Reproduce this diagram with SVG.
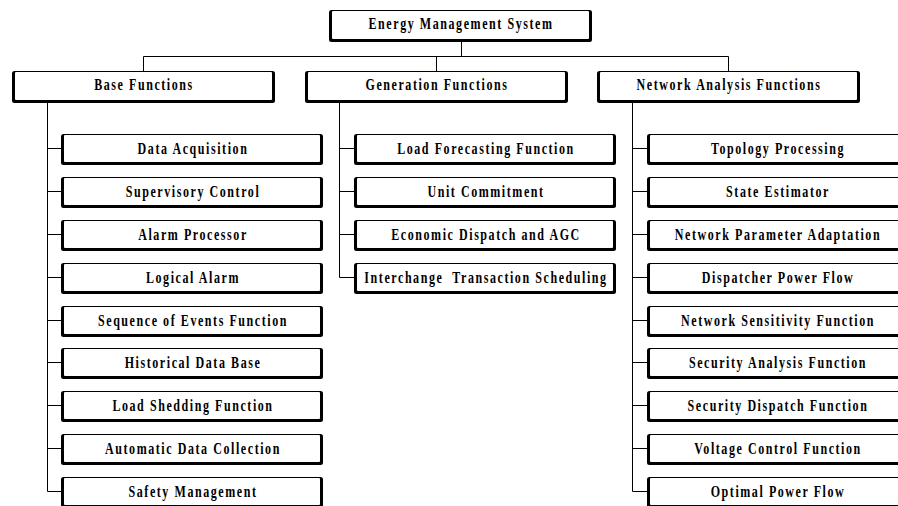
<svg xmlns="http://www.w3.org/2000/svg" xmlns:xlink="http://www.w3.org/1999/xlink" width="898" height="506" viewBox="0 0 898 506">
<style>
text{font-family:"Liberation Serif","Times New Roman",serif;font-weight:bold;font-size:16px;letter-spacing:2.1px;text-anchor:middle;fill:#000}
.ln{stroke:#000;stroke-width:1;fill:none}
</style>
<defs>
<g id="cb"><rect width="262" height="31" rx="2.5" fill="#000"/><rect x="3" y="1" width="256" height="27" rx="1" fill="#fff"/></g>
<g id="hb"><rect width="263" height="32" rx="2.5" fill="#000"/><rect x="3" y="1" width="257" height="28" rx="1" fill="#fff"/></g>
</defs>
<rect width="898" height="506" fill="#fff"/>
<g id="connectors" class="ln">
<path d="M461.5 41V56.5M143.5 56.5H728.5M143.5 56.5V71M436.5 56.5V71M728.5 56.5V71"/>
<path d="M47.5 103V491.5M47.5 148.5H61M47.5 191.5H61M47.5 234.5H61M47.5 277.5H61M47.5 320.5H61M47.5 362.5H61M47.5 405.5H61M47.5 448.5H61M47.5 491.5H61"/>
<path d="M339.5 103V277.5M339.5 148.5H354M339.5 191.5H354M339.5 234.5H354M339.5 277.5H354"/>
<path d="M632.5 103V491.5M632.5 148.5H647M632.5 191.5H647M632.5 234.5H647M632.5 277.5H647M632.5 320.5H647M632.5 362.5H647M632.5 405.5H647M632.5 448.5H647M632.5 491.5H647"/>
</g>
<g id="ems"><use xlink:href="#hb" x="329" y="10"/><text transform="translate(461,29) scale(0.75,1)">Energy Management System</text></g>
<g id="base"><use xlink:href="#hb" x="12" y="71"/><text transform="translate(144,90) scale(0.75,1)">Base Functions</text></g>
<g id="gen"><use xlink:href="#hb" x="305" y="71"/><text transform="translate(437,90) scale(0.75,1)">Generation Functions</text></g>
<g id="net"><use xlink:href="#hb" x="597" y="71"/><text transform="translate(729,90) scale(0.75,1)">Network Analysis Functions</text></g>

<g id="b1"><use xlink:href="#cb" x="61" y="134"/><text transform="translate(193,154) scale(0.75,1)">Data Acquisition</text></g>
<g id="b2"><use xlink:href="#cb" x="61" y="177"/><text transform="translate(193,197) scale(0.75,1)">Supervisory Control</text></g>
<g id="b3"><use xlink:href="#cb" x="61" y="220"/><text transform="translate(193,240) scale(0.75,1)">Alarm Processor</text></g>
<g id="b4"><use xlink:href="#cb" x="61" y="263"/><text transform="translate(193,283) scale(0.75,1)">Logical Alarm</text></g>
<g id="b5"><use xlink:href="#cb" x="61" y="306"/><text transform="translate(193,326) scale(0.75,1)">Sequence of Events Function</text></g>
<g id="b6"><use xlink:href="#cb" x="61" y="348"/><text transform="translate(193,368) scale(0.75,1)">Historical Data Base</text></g>
<g id="b7"><use xlink:href="#cb" x="61" y="391"/><text transform="translate(193,411) scale(0.75,1)">Load Shedding Function</text></g>
<g id="b8"><use xlink:href="#cb" x="61" y="434"/><text transform="translate(193,454) scale(0.75,1)">Automatic Data Collection</text></g>
<g id="b9"><use xlink:href="#cb" x="61" y="477"/><text transform="translate(193,497) scale(0.75,1)">Safety Management</text></g>

<g id="g1"><use xlink:href="#cb" x="354" y="134"/><text transform="translate(486,154) scale(0.75,1)">Load Forecasting Function</text></g>
<g id="g2"><use xlink:href="#cb" x="354" y="177"/><text transform="translate(486,197) scale(0.75,1)">Unit Commitment</text></g>
<g id="g3"><use xlink:href="#cb" x="354" y="220"/><text transform="translate(486,240) scale(0.75,1)">Economic Dispatch and AGC</text></g>
<g id="g4"><use xlink:href="#cb" x="354" y="263"/><text transform="translate(486,283) scale(0.75,1)" xml:space="preserve">Interchange  Transaction Scheduling</text></g>

<g id="n1"><use xlink:href="#cb" x="647" y="134"/><text transform="translate(778,154) scale(0.75,1)">Topology Processing</text></g>
<g id="n2"><use xlink:href="#cb" x="647" y="177"/><text transform="translate(778,197) scale(0.75,1)">State Estimator</text></g>
<g id="n3"><use xlink:href="#cb" x="647" y="220"/><text transform="translate(778,240) scale(0.75,1)">Network Parameter Adaptation</text></g>
<g id="n4"><use xlink:href="#cb" x="647" y="263"/><text transform="translate(778,283) scale(0.75,1)">Dispatcher Power Flow</text></g>
<g id="n5"><use xlink:href="#cb" x="647" y="306"/><text transform="translate(778,326) scale(0.75,1)">Network Sensitivity Function</text></g>
<g id="n6"><use xlink:href="#cb" x="647" y="348"/><text transform="translate(778,368) scale(0.75,1)">Security Analysis Function</text></g>
<g id="n7"><use xlink:href="#cb" x="647" y="391"/><text transform="translate(778,411) scale(0.75,1)">Security Dispatch Function</text></g>
<g id="n8"><use xlink:href="#cb" x="647" y="434"/><text transform="translate(778,454) scale(0.75,1)">Voltage Control Function</text></g>
<g id="n9"><use xlink:href="#cb" x="647" y="477"/><text transform="translate(778,497) scale(0.75,1)">Optimal Power Flow</text></g>
</svg>
